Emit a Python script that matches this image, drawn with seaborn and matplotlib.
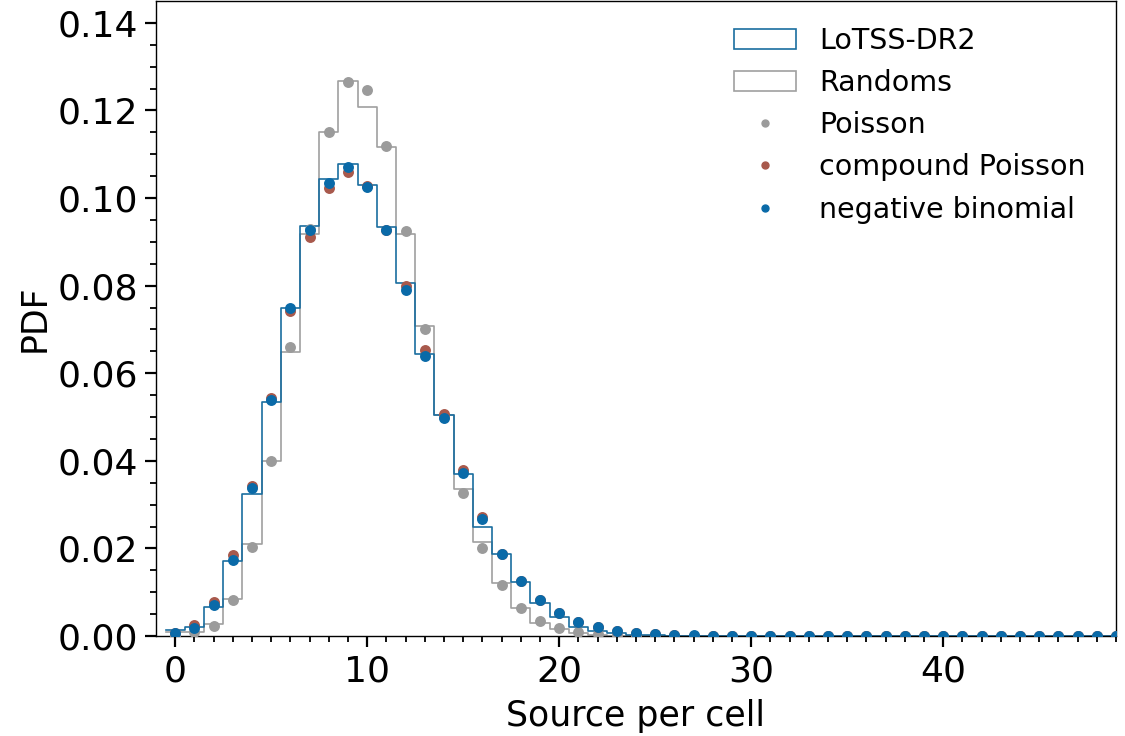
import numpy as np
import pandas as pd
import matplotlib
matplotlib.use("Agg")
import matplotlib.pyplot as plt
import seaborn as sns
from matplotlib.patches import Patch
from matplotlib.lines import Line2D

# counts per cell (bins centred on integers)
counts = list(range(50))

# histogram heights
lotss = [0.0013, 0.0020, 0.0066, 0.0171, 0.0324, 0.0534, 0.0748, 0.0937, 0.1044, 0.1077,
         0.1029, 0.0935, 0.0805, 0.0643, 0.0504, 0.0370, 0.0249, 0.0187, 0.0123, 0.0075,
         0.0043, 0.0020, 0.0012, 0.0006, 0.0003, 0.0002, 0.0001, 0.0001, 0.0, 0.0,
         0.0, 0.0, 0.0, 0.0, 0.0, 0.0, 0.0, 0.0, 0.0, 0.0,
         0.0, 0.0, 0.0, 0.0, 0.0, 0.0, 0.0, 0.0, 0.0, 0.0]
randoms = [0.0010, 0.0009, 0.0027, 0.0084, 0.0210, 0.0400, 0.0648, 0.0918, 0.1150, 0.1268,
           0.1209, 0.1117, 0.0919, 0.0707, 0.0504, 0.0335, 0.0214, 0.0121, 0.0064, 0.0030,
           0.0016, 0.0007, 0.0003, 0.0001, 0.0, 0.0, 0.0, 0.0, 0.0, 0.0,
           0.0, 0.0, 0.0, 0.0, 0.0, 0.0, 0.0, 0.0, 0.0, 0.0,
           0.0, 0.0, 0.0, 0.0, 0.0, 0.0, 0.0, 0.0, 0.0, 0.0]

# model predictions (dots)
poisson = [0.0001, 0.0009, 0.0023, 0.0082, 0.0203, 0.0400, 0.0660, 0.0930, 0.1150, 0.1266,
           0.1247, 0.1120, 0.0924, 0.0702, 0.0500, 0.0326, 0.0200, 0.0117, 0.0064, 0.0034,
           0.0018, 0.0009, 0.0004, 0.0002, 0.0001, 0.0, 0.0, 0.0, 0.0, 0.0,
           0.0, 0.0, 0.0, 0.0, 0.0, 0.0, 0.0, 0.0, 0.0, 0.0,
           0.0, 0.0, 0.0, 0.0, 0.0, 0.0, 0.0, 0.0, 0.0, 0.0]
compound = [0.0006, 0.0025, 0.0078, 0.0184, 0.0342, 0.0543, 0.0741, 0.0912, 0.1024, 0.1060,
            0.1028, 0.0928, 0.0800, 0.0652, 0.0508, 0.0380, 0.0272, 0.0187, 0.0125, 0.0082,
            0.0052, 0.0032, 0.0020, 0.0012, 0.0007, 0.0004, 0.0002, 0.0001, 0.0001, 0.0,
            0.0, 0.0, 0.0, 0.0, 0.0, 0.0, 0.0, 0.0, 0.0, 0.0,
            0.0, 0.0, 0.0, 0.0, 0.0, 0.0, 0.0, 0.0, 0.0, 0.0]
negbin = [0.0006, 0.0018, 0.0071, 0.0174, 0.0338, 0.0538, 0.0748, 0.0926, 0.1035, 0.1070,
          0.1026, 0.0926, 0.0790, 0.0640, 0.0497, 0.0372, 0.0267, 0.0187, 0.0125, 0.0082,
          0.0052, 0.0032, 0.0020, 0.0012, 0.0007, 0.0004, 0.0002, 0.00015, 0.0001, 0.0,
          0.0, 0.0, 0.0, 0.0, 0.0, 0.0, 0.0, 0.0, 0.0, 0.0,
          0.0, 0.0, 0.0, 0.0, 0.0, 0.0, 0.0, 0.0, 0.0, 0.0]

df = pd.DataFrame({"k": counts, "lotss": lotss, "randoms": randoms,
                   "poisson": poisson, "compound": compound, "negbin": negbin})

c_blue = "#1a6ea0"
c_gray = "#a0a0a0"
c_red = "#a8594c"
c_dot_blue = "#0a6aa8"
c_dot_gray = "#9b9b9b"

plt.rcParams["font.family"] = ["DejaVu Sans"]

fig = plt.figure(figsize=(11.25, 7.36), dpi=100)
ax = fig.add_axes([156 / 1125, 1 - 636 / 736, (1116 - 156) / 1125, 635 / 736])

sns.histplot(data=df, x="k", weights="randoms", discrete=True, element="step",
             fill=False, color=c_gray, linewidth=1.2, ax=ax)
sns.histplot(data=df, x="k", weights="lotss", discrete=True, element="step",
             fill=False, color=c_blue, linewidth=1.2, ax=ax)

sns.scatterplot(data=df, x="k", y="poisson", color=c_dot_gray, s=62, linewidth=0, ax=ax, zorder=3)
sns.scatterplot(data=df, x="k", y="compound", color=c_red, s=62, linewidth=0, ax=ax, zorder=4)
sns.scatterplot(data=df, x="k", y="negbin", color=c_dot_blue, s=62, linewidth=0, ax=ax, zorder=5)

ax.set_xlim(-1, 49)
ax.set_ylim(0, 0.145)
ax.set_xticks([0, 10, 20, 30, 40])
ax.set_yticks(np.arange(0, 0.141, 0.02))
ax.set_xticks(np.arange(0, 50, 1), minor=True)
ax.set_yticks(np.arange(0, 0.145, 0.005), minor=True)
ax.tick_params(which="major", length=8, width=1.6, labelsize=26, direction="out", pad=5)
ax.tick_params(which="minor", length=4.5, width=1.3, direction="out")
for s in ax.spines.values():
    s.set_linewidth(1.0)

ax.set_xlabel("Source per cell", fontsize=25, labelpad=8)
ax.set_ylabel("PDF", fontsize=25)

handles = [
    Patch(facecolor="none", edgecolor=c_blue, linewidth=1.2, label="LoTSS-DR2"),
    Patch(facecolor="none", edgecolor=c_gray, linewidth=1.2, label="Randoms"),
    Line2D([], [], marker="o", linestyle="none", color=c_dot_gray, markersize=5, label="Poisson"),
    Line2D([], [], marker="o", linestyle="none", color=c_red, markersize=5, label="compound Poisson"),
    Line2D([], [], marker="o", linestyle="none", color=c_dot_blue, markersize=5, label="negative binomial"),
]
ax.legend(handles=handles, loc="upper right", frameon=False, fontsize=20.5,
          handlelength=2.2, bbox_to_anchor=(0.995, 1.0))

fig.savefig("out.png", dpi=100)
